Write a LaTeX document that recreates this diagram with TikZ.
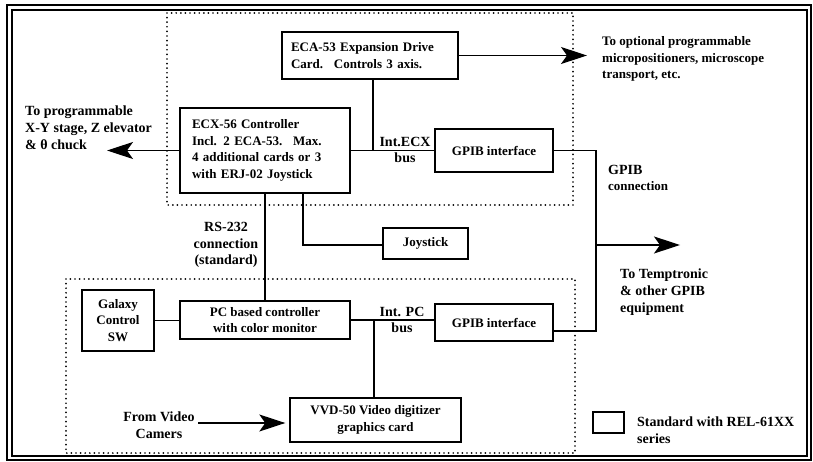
\documentclass[tikz,border=0pt]{standalone}
\usepackage{fontspec}
\setmainfont{Liberation Serif}
\usetikzlibrary{arrows.meta}
\begin{document}
\begin{tikzpicture}[x=1pt,y=-1pt,
  every node/.style={font=\bfseries\fontsize{13}{16.5}\selectfont},
  blk/.style={draw, line width=1.4pt, inner sep=0pt, align=center},
  lbl/.style={inner sep=0pt, font=\bfseries\fontsize{14}{16.8}\selectfont},
  small/.style={font=\bfseries\fontsize{13}{16.5}\selectfont},
  conn/.style={line width=1.2pt},
  arr/.style={conn, -{Stealth[length=26pt,width=17pt,inset=6pt]}},
  dotbox/.style={line width=1.9pt, line cap=round, dash pattern=on 0pt off 4.6pt},
]
\useasboundingbox (0,0) rectangle (813,462);
% frame
\draw[line width=2.2pt] (7,5) rectangle (811,460);
\draw[line width=1.5pt] (12,10) rectangle (807,456);
% dotted groups
\draw[dotbox] (167,13) rectangle (573,205);
\draw[dotbox] (66,279) rectangle (575,453);

% blocks
\node[blk, minimum height=47pt, text width=158pt, inner xsep=9pt, align=left] (eca) at (370,55.5)
  {ECA-53 Expansion Drive\\Card.~ Controls 3 axis.};
\node[blk, minimum height=85pt, text width=146pt, inner xsep=12pt, align=left] (ecx) at (265,150.5)
  {ECX-56 Controller\\Incl. 2 ECA-53.~ Max.\\4 additional cards or 3\\with ERJ-02 Joystick};
\node[blk, minimum width=118pt, minimum height=43pt] (gpib1) at (494,150.5) {GPIB interface};
\node[blk, minimum width=85pt, minimum height=31pt] (joy) at (425.5,243.5) {Joystick};
\node[blk, minimum width=72pt, minimum height=61pt] (galaxy) at (118,320.5) {Galaxy\\Control\\SW};
\node[blk, minimum width=170pt, minimum height=38pt] (pc) at (265,320) {PC based controller\\with color monitor};
\node[blk, minimum width=118pt, minimum height=37pt] (gpib2) at (494,322.5) {GPIB interface};
\node[blk, minimum width=171pt, minimum height=44pt] (vvd) at (375.5,420) {VVD-50 Video digitizer\\graphics card};
\node[blk, line width=1.2pt, minimum width=31pt, minimum height=21pt] (legend) at (608.5,422.5) {};

% labels
\node[lbl, anchor=west, align=left] (tgt1) at (25,128) {To programmable\\X-Y stage, Z elevator\\\& θ chuck};
\node[lbl, small, anchor=west, align=left] (opt) at (602,59) {To optional programmable\\micropositioners, microscope\\transport, etc.};
\node[lbl, anchor=west, align=left] (gpibc) at (608,178) {GPIB\\{\fontsize{13}{15}\selectfont connection}};
\node[lbl, anchor=west, align=left] (temp) at (620,292) {To Temptronic\\\& other GPIB\\equipment};
\node[lbl, align=center] (rs) at (226,245) {RS-232\\connection\\(standard)};
\node[lbl, align=center] (intecx) at (405,150) {Int.ECX\\bus};
\node[lbl, align=center] (intpc) at (402,320) {Int. PC\\bus};
\node[lbl, align=center] (from) at (159,425) {From Video\\Camers};
\node[lbl, anchor=west, align=left] (std) at (637,430) {Standard with REL-61XX\\series};

% free ends and junctions
\coordinate (tgtL) at (107,150.5);
\coordinate (optR) at (587,55.5);
\coordinate (ecaJ) at (373,150.5);
\coordinate (gR) at (596,150.5);
\coordinate (gR2) at (596,331);
\coordinate (tempA) at (596,245);
\coordinate (tempB) at (680,245);
\coordinate (joyK) at (303,245);
\coordinate (busJ) at (374,320);
\coordinate (camS) at (198,423);

% connectors
\draw[arr] (ecx.west) -- (tgtL);
\draw[arr] (eca.east) -- (optR);
\draw[conn] (eca.south -| ecaJ) -- (ecaJ);
\draw[conn] (ecx.east) -- (gpib1.west);
\draw[conn] (gpib1.east) -- (gR) -- (gR2) -- (gpib2.east |- gR2);
\draw[arr] (tempA) -- (tempB);
\draw[conn] (ecx.south -| joyK) -- (joyK) -- (joy.west |- joyK);
\draw[conn] (ecx.south) -- (pc.north);
\draw[conn] (galaxy.east) -- (galaxy.east -| pc.west);
\draw[conn] (pc.east) -- (gpib2.west |- pc.east);
\draw[conn] (busJ) -- (vvd.north -| busJ);
\draw[arr] (camS) -- ([xshift=-4pt]vvd.west |- camS);
\end{tikzpicture}
\end{document}
